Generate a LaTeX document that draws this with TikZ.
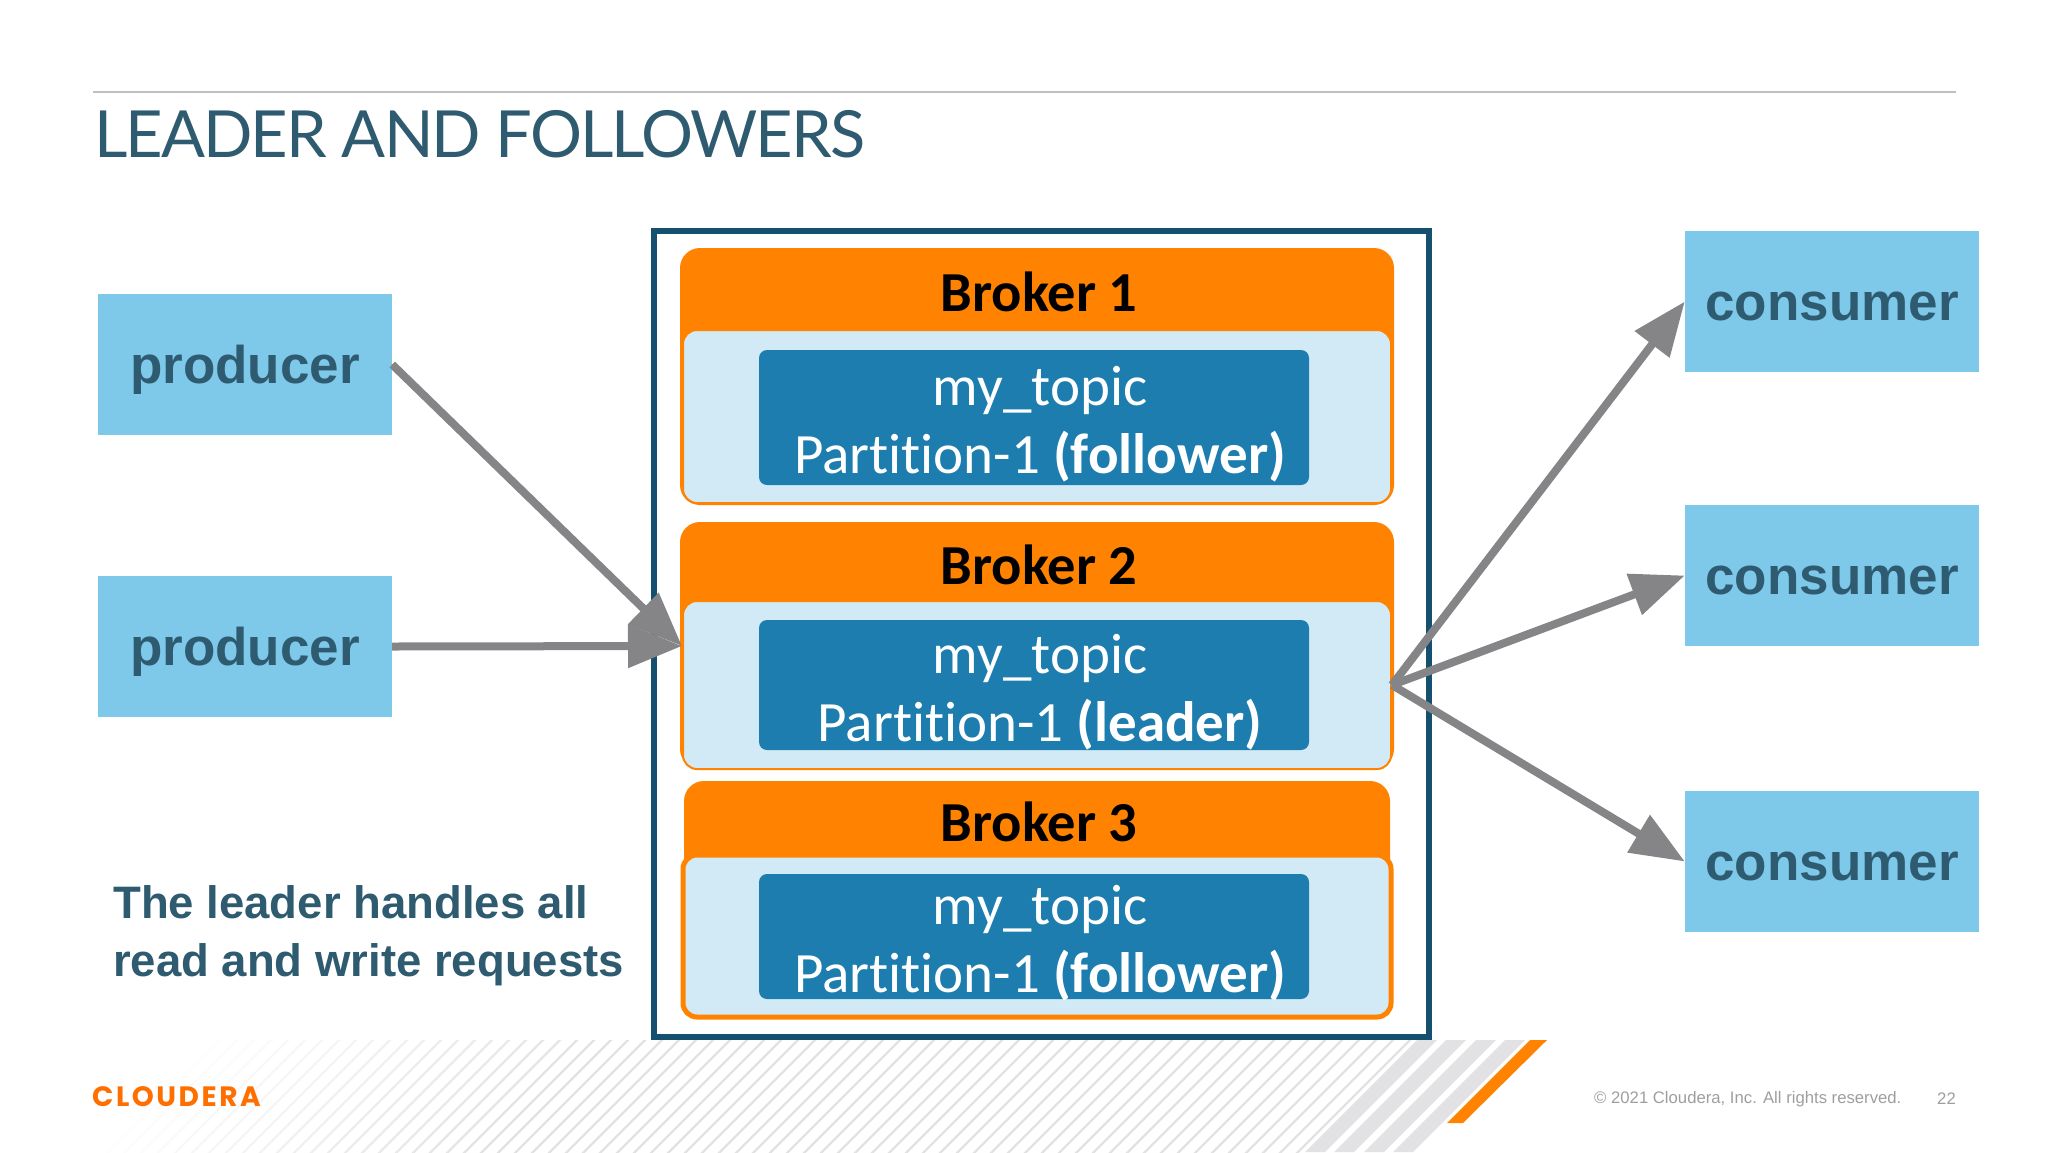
\documentclass[tikz,border=0pt]{standalone}
\usepackage{fontspec}
\setmainfont[Ligatures=NoCommon]{Carlito}
\newfontfamily\headfont[LetterSpace=-3]{Lato}
\newfontfamily\bodyfont{Liberation Sans}
\newfontfamily\logofont[LetterSpace=9]{Poppins}
\usetikzlibrary{arrows.meta, positioning}
\definecolor{skyfill}{HTML}{7EC8EA}
\definecolor{slatetext}{HTML}{2E5B70}
\definecolor{frameblue}{HTML}{15506F}
\definecolor{brokerorange}{HTML}{FF8300}
\definecolor{bodyblue}{HTML}{D2EAF6}
\definecolor{topicblue}{HTML}{1C7DAE}
\definecolor{arrowgrey}{HTML}{858487}
\definecolor{hatchgrey}{HTML}{E2E2E4}
\newcommand{\px}[2]{\fontsize{#1}{#2}\selectfont}

\begin{document}
\begin{tikzpicture}[%
  x=1pt, y=-1pt,%
  client/.style={rectangle, fill=skyfill, minimum width=294pt, minimum height=141pt, inner sep=0pt, text height=48pt, text depth=10pt, text=slatetext, font=\bodyfont\bfseries\px{53}{60}},%
  brokerhead/.style={rectangle, fill=brokerorange, rounded corners=20pt, minimum width=714pt, inner sep=0pt},%
  brokerbody/.style={rectangle, fill=bodyblue, draw=brokerorange, line width=2pt, rounded corners=14pt, minimum width=708pt, inner sep=0pt},%
  brokertitle/.style={inner sep=0pt, font=\bfseries\px{56.5}{60}},%
  topic/.style={rectangle, fill=topicblue, rounded corners=8pt, minimum width=550pt, inner sep=0pt},%
  topictext/.style={inner sep=0pt, text=white, align=center, font=\px{57}{68}},%
  flow/.style={-{Triangle[length=54pt, width=42pt]}, line width=8pt, draw=arrowgrey}%
]
  \useasboundingbox (0,0) rectangle (2048,1152);

  % hatched band along the bottom
  \begin{scope}
    \clip (0,1040) rectangle (1440,1152);
    \foreach \xt in {120,137,...,1420} {
      \pgfmathsetmacro{\pct}{min(100,max(0,(\xt-200)/4))}
      \draw[hatchgrey!\pct!white, line width=2.2pt] (\xt,1038) -- ++(-116,116);
    }
  \end{scope}
  \foreach \xt in {1417,1446,1476,1505}
    \fill[hatchgrey] (\xt,1040) -- ++(20,0) -- ++(-112,112) -- ++(-20,0) -- cycle;
  \fill[brokerorange] (1530,1040) -- (1547,1040) -- (1463,1123) -- (1447,1123) -- cycle;

  % title
  \draw[line width=2pt, draw=black!25] (93,92) -- (1956,92);
  \node[anchor=west, inner sep=0pt, text=slatetext, font=\headfont\px{65}{70}] (title) at (94,134.5) {LEADER AND FOLLOWERS};

  % cluster
  \node[rectangle, draw=frameblue, fill=white, line width=6pt, minimum width=775pt, minimum height=806pt, inner sep=0pt] (cluster) at (1041,634) {};

  \node[brokerhead, minimum height=257pt] (head1) at (1037,376.5) {};
  \node[brokerbody, minimum height=173pt] (body1) at (1037,416.5) {};
  \node[brokertitle] (title1) at (1039,292) {Broker 1};
  \node[topic, minimum height=135pt] (topic1) at (1034,417.5) {};
  \node[topictext] (text1) at (1040,424) {my\_topic\\Partition-1 \textbf{(follower)}};

  \node[brokerhead, minimum height=247pt] (head2) at (1037,645.5) {};
  \node[brokerbody, minimum height=168pt] (body2) at (1037,685) {};
  \node[brokertitle] (title2) at (1039,565) {Broker 2};
  \node[topic, minimum height=130pt] (topic2) at (1034,685) {};
  \node[topictext] (text2) at (1040,692) {my\_topic\\Partition-1 \textbf{(leader)}};

  \node[brokerhead, minimum width=706pt, minimum height=237pt] (head3) at (1037,899.5) {};
  \node[brokerbody, line width=5pt, minimum height=162pt] (body3) at (1037,936) {};
  \node[brokertitle] (title3) at (1039,822) {Broker 3};
  \node[topic, minimum height=125pt] (topic3) at (1034,936.5) {};
  \node[topictext] (text3) at (1040,943) {my\_topic\\Partition-1 \textbf{(follower)}};

  % clients
  \node[client] (prod1) at (245,364.5) {producer};
  \node[client] (prod2) at (245,646.5) {producer};
  \node[client] (cons1) at (1832,301.5) {consumer};
  \node[client] (cons2) at (1832,575.5) {consumer};
  \node[client] (cons3) at (1832,861.5) {consumer};

  \coordinate (entry) at (682,646);
  \draw[flow] (prod1.east) -- (entry);
  \draw[flow] (prod2.east) -- (entry);
  \draw[flow] (body2.east) -- (cons1.west);
  \draw[flow] (body2.east) -- (cons2.west);
  \draw[flow] (body2.east) -- (cons3.west);

  \node[anchor=north west, inner sep=0pt, align=left, text=slatetext, font=\bodyfont\bfseries\px{45.5}{58}] (note) at (113,885) {The leader handles all\\read and write requests};

  % footer
  \node[anchor=west, inner sep=0pt, text=brokerorange!85!red, font=\logofont\bfseries\px{28}{30}] (logo) at (92,1097) {CLOUDERA};
  \node[anchor=west, inner sep=0pt, text=black!38, font=\bodyfont\px{16.7}{20}] (rights) at (1594,1099) {\textcopyright{} 2021 Cloudera, Inc. All rights reserved.};
  \node[anchor=east, inner sep=0pt, text=black!38, font=\bodyfont\px{16.7}{20}] (pagenum) at (1956,1099) {22};
\end{tikzpicture}
\end{document}
